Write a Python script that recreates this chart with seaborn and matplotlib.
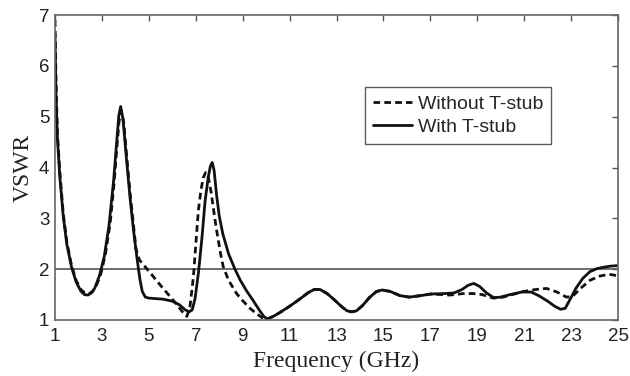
import numpy as np
import pandas as pd
import matplotlib
matplotlib.use("Agg")
import matplotlib.pyplot as plt
import seaborn as sns

# Datos (VSWR vs frecuencia)
freq_con = [1.0, 1.04, 1.1, 1.2, 1.35, 1.5, 1.7, 1.9, 2.1, 2.25, 2.4, 2.55, 2.7, 2.9,
            3.1, 3.3, 3.5, 3.62, 3.72, 3.8, 3.9, 4.05, 4.2, 4.35, 4.5, 4.62, 4.72, 4.85,
            5.0, 5.3, 5.6, 6.0, 6.3, 6.55, 6.72, 6.85, 6.97, 7.12, 7.27, 7.4, 7.53, 7.62,
            7.7, 7.78, 7.89, 8.0, 8.15, 8.4, 8.67, 8.9, 9.17, 9.45, 9.7, 9.9, 10.05, 10.3,
            10.6, 11.0, 11.4, 11.8, 12.05, 12.3, 12.6, 12.9, 13.2, 13.45, 13.65, 13.85,
            14.1, 14.4, 14.7, 14.95, 15.3, 15.7, 16.1, 16.6, 17.0, 17.6, 18.0, 18.35,
            18.6, 18.85, 19.1, 19.4, 19.7, 20.0, 20.4, 20.9, 21.3, 21.65, 22.0, 22.3,
            22.55, 22.75, 22.95, 23.2, 23.5, 23.8, 24.1, 24.4, 24.7, 25.0]
vswr_con = [6.6, 5.5, 4.6, 3.85, 3.05, 2.5, 2.05, 1.75, 1.57, 1.5, 1.49, 1.53, 1.63, 1.88,
            2.25, 2.85, 3.75, 4.45, 5.02, 5.2, 4.95, 4.15, 3.4, 2.75, 2.2, 1.8, 1.56, 1.45,
            1.43, 1.42, 1.41, 1.37, 1.3, 1.2, 1.16, 1.2, 1.42, 1.95, 2.65, 3.35, 3.8, 4.02,
            4.1, 3.95, 3.45, 3.05, 2.7, 2.3, 2.0, 1.78, 1.57, 1.38, 1.2, 1.07, 1.02, 1.07,
            1.15, 1.27, 1.4, 1.54, 1.6, 1.6, 1.52, 1.4, 1.27, 1.18, 1.16, 1.18,
            1.28, 1.44, 1.56, 1.59, 1.56, 1.48, 1.45, 1.48, 1.51, 1.52, 1.53, 1.6,
            1.68, 1.72, 1.66, 1.53, 1.44, 1.45, 1.5, 1.55, 1.55, 1.47, 1.37, 1.27,
            1.21, 1.23, 1.4, 1.62, 1.82, 1.95, 2.01, 2.04, 2.06, 2.07]

freq_sin = [1.0, 1.04, 1.1, 1.2, 1.35, 1.5, 1.7, 1.9, 2.1, 2.25, 2.45, 2.6, 2.75, 2.95,
            3.15, 3.35, 3.52, 3.63, 3.73, 3.82, 3.93, 4.08, 4.22, 4.35, 4.45, 4.6, 5.0,
            5.5, 6.0, 6.3, 6.5, 6.62, 6.75, 6.9, 7.02, 7.11, 7.22, 7.32, 7.42, 7.5, 7.58,
            7.66, 7.75, 7.86, 7.96, 8.06, 8.17, 8.4, 8.74, 9.0, 9.31, 9.6, 9.88, 10.05,
            10.3, 10.6, 11.0, 11.4, 11.8, 12.05, 12.3, 12.6, 12.9, 13.2, 13.45, 13.65,
            13.85, 14.1, 14.4, 14.7, 14.95, 15.3, 15.7, 16.1, 16.6, 17.0, 17.5, 17.84,
            18.4, 18.83, 19.2, 19.68, 20.1, 20.5, 20.96, 21.5, 21.96, 22.4, 22.8, 23.05,
            23.4, 23.8, 24.2, 24.6, 25.0]
vswr_sin = [6.9, 5.8, 4.7, 3.95, 3.1, 2.55, 2.08, 1.78, 1.6, 1.54, 1.52, 1.56, 1.66, 1.9,
            2.3, 2.9, 3.7, 4.35, 4.9, 5.12, 4.88, 4.1, 3.4, 2.85, 2.4, 2.18, 1.96,
            1.68, 1.41, 1.24, 1.12, 1.07, 1.25, 1.85, 2.6, 3.15, 3.55, 3.8, 3.9, 3.88, 3.7,
            3.5, 3.2, 2.85, 2.57, 2.3, 2.05, 1.78, 1.52, 1.38, 1.23, 1.12, 1.03, 1.02,
            1.07, 1.15, 1.27, 1.4, 1.54, 1.6, 1.6, 1.52, 1.4, 1.27, 1.18, 1.16,
            1.18, 1.28, 1.44, 1.56, 1.59, 1.56, 1.48, 1.45, 1.48, 1.51, 1.5, 1.49,
            1.52, 1.52, 1.5, 1.43, 1.45, 1.5, 1.56, 1.6, 1.62, 1.55, 1.45, 1.46,
            1.62, 1.78, 1.86, 1.9, 1.87]

xticks = [1, 3, 5, 7, 9, 11, 13, 15, 17, 19, 21, 23, 25]
yticks = [1, 2, 3, 4, 5, 6, 7]

sns.set_style("white")
plt.rcParams["font.family"] = ["Liberation Sans", "DejaVu Sans"]

fig = plt.figure(figsize=(6.3, 3.76), dpi=100)
ax = fig.add_axes([0.0873, 0.149, 0.8937, 0.811])

sns.lineplot(x=freq_sin, y=vswr_sin, ax=ax, color="#111111", linewidth=2.0,
             label="Without T-stub", sort=False)
sns.lineplot(x=freq_con, y=vswr_con, ax=ax, color="#111111", linewidth=2.0,
             label="With T-stub", sort=False)
ax.lines[0].set_dashes((2.4, 1.5))

# linea de referencia VSWR = 2
ax.axhline(2, color="#555555", linewidth=1.2, zorder=0)

ax.set_xlim(1, 25)
ax.set_ylim(1, 7)
ax.set_xticks(xticks)
ax.set_yticks(yticks)
ax.tick_params(direction="in", length=4, width=1, colors="#555555",
               labelcolor="#222222", labelsize=13.5, top=True, right=True)
ax.tick_params(axis="x", pad=6)
ax.tick_params(axis="y", pad=4)
for s in ax.spines.values():
    s.set_color("#666666")
    s.set_linewidth(1.2)

ax.set_xlabel("Frequency (GHz)", family=["Liberation Serif", "DejaVu Serif"],
              fontsize=17, color="#222222", labelpad=4)
ax.set_ylabel("VSWR", family=["Liberation Serif", "DejaVu Serif"],
              fontsize=17, color="#222222", labelpad=4)

leg = ax.legend(loc="upper left", bbox_to_anchor=(0.551, 0.763), fontsize=14,
                frameon=True, fancybox=False, handlelength=2.0, handletextpad=0.3,
                borderpad=0.4, labelspacing=0.3, borderaxespad=0)
leg.get_frame().set_edgecolor("#333333")
leg.get_frame().set_linewidth(1.0)

fig.savefig("out.png", dpi=100)
